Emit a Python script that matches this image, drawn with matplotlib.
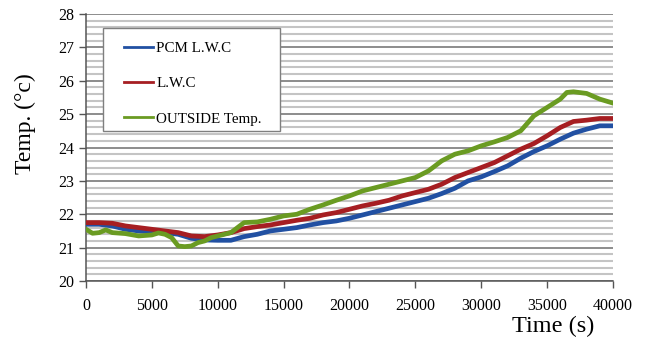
import matplotlib
matplotlib.use("Agg")
import matplotlib.pyplot as plt
from matplotlib.ticker import MultipleLocator
from matplotlib.patches import Rectangle

plt.rcParams['font.family'] = ['Liberation Serif', 'DejaVu Serif']

time_pcm = [0, 1000, 2000, 3000, 4000, 5000, 6000, 7000, 8000, 9000, 10000,
            11000, 12000, 13000, 14000, 15000, 16000, 17000, 18000, 19000, 20000,
            21000, 22000, 23000, 24000, 25000, 26000, 27000, 28000, 29000, 30000,
            31000, 32000, 33000, 34000, 35000, 36000, 37000, 38000, 39000, 40000]
pcm_lwc = [21.70, 21.70, 21.65, 21.55, 21.50, 21.48, 21.45, 21.40, 21.28, 21.23, 21.22,
           21.22, 21.33, 21.40, 21.50, 21.55, 21.60, 21.68, 21.75, 21.80, 21.88,
           21.98, 22.08, 22.18, 22.28, 22.38, 22.48, 22.62, 22.78, 23.00, 23.12,
           23.28, 23.45, 23.68, 23.88, 24.05, 24.25, 24.43, 24.55, 24.65, 24.65]

time_lwc = time_pcm
lwc = [21.75, 21.75, 21.73, 21.65, 21.60, 21.55, 21.50, 21.45, 21.35, 21.33, 21.38,
       21.45, 21.57, 21.63, 21.68, 21.75, 21.82, 21.88, 21.98, 22.05, 22.15,
       22.25, 22.33, 22.42, 22.55, 22.65, 22.75, 22.90, 23.10, 23.25, 23.40,
       23.55, 23.75, 23.95, 24.12, 24.35, 24.60, 24.78, 24.82, 24.87, 24.87]

time_out = [0, 500, 1000, 1500, 2000, 3000, 4000, 5000, 5500, 6000, 6500, 7000, 7500,
            8000, 8500, 9000, 9500, 10000, 11000, 11500, 12000, 13000, 14000, 15000,
            16000, 17000, 18000, 19000, 20000, 21000, 22000, 23000, 24000, 25000,
            26000, 27000, 28000, 29000, 30000, 31000, 32000, 33000, 34000, 35000,
            36000, 36500, 37000, 38000, 39000, 40000]
outside = [21.55, 21.43, 21.45, 21.53, 21.45, 21.42, 21.35, 21.38, 21.44, 21.40, 21.30,
           21.05, 21.03, 21.05, 21.15, 21.20, 21.30, 21.35, 21.45, 21.60, 21.75,
           21.77, 21.85, 21.95, 22.00, 22.15, 22.28, 22.42, 22.55, 22.70, 22.80,
           22.90, 23.00, 23.10, 23.30, 23.60, 23.80, 23.90, 24.05, 24.17, 24.30,
           24.50, 24.95, 25.20, 25.45, 25.65, 25.67, 25.62, 25.45, 25.33]

fig = plt.figure(figsize=(6.49, 3.40), dpi=100)
ax = fig.add_axes([0.1325, 0.1735, 0.812, 0.7853])

ax.plot(time_pcm, pcm_lwc, color='#2150A2', lw=3.4, label='PCM L.W.C', zorder=3)
ax.plot(time_lwc, lwc, color='#A61E22', lw=3.4, label='L.W.C', zorder=4)
ax.plot(time_out, outside, color='#6A9B22', lw=3.4, label='OUTSIDE Temp.', zorder=5)

ax.set_xlim(0, 40000)
ax.set_ylim(20, 28)
ax.xaxis.set_major_locator(MultipleLocator(5000))
ax.yaxis.set_major_locator(MultipleLocator(1))
ax.yaxis.set_minor_locator(MultipleLocator(0.2))

ax.grid(which='major', axis='y', color='#6E6E6E', lw=1.1, zorder=1)
ax.grid(which='minor', axis='y', color='#C4C4C4', lw=1.5, zorder=0)
ax.tick_params(axis='y', which='minor', length=0)
ax.tick_params(axis='both', which='major', labelsize=11.5, length=5, color='#555555', width=1)
ax.tick_params(axis='x', pad=7)

for s in ['top', 'right']:
    ax.spines[s].set_visible(False)
for s in ['left', 'bottom']:
    ax.spines[s].set_color('#555555')
    ax.spines[s].set_linewidth(1.1)

fig.text(0.0385, 0.635, 'Temp. (°c)', rotation=90, ha='center', va='center', fontsize=17)
fig.text(0.852, 0.040, 'Time (s)', ha='center', va='center', fontsize=17.5)

box = Rectangle((0.0323, 0.5618), 0.336, 0.3858, transform=ax.transAxes,
                facecolor='white', edgecolor='#7F7F7F', lw=1.0, zorder=9)
ax.add_patch(box)

leg = ax.legend(loc='upper left', bbox_to_anchor=(0.0721, 0.897), fontsize=10.8,
                frameon=False, handlelength=1.95, handletextpad=0.2, labelspacing=1.45,
                borderpad=0, borderaxespad=0)
for h in leg.get_lines():
    h.set_linewidth(2.0)
leg.set_zorder(10)

fig.savefig('out.png', dpi=100)
